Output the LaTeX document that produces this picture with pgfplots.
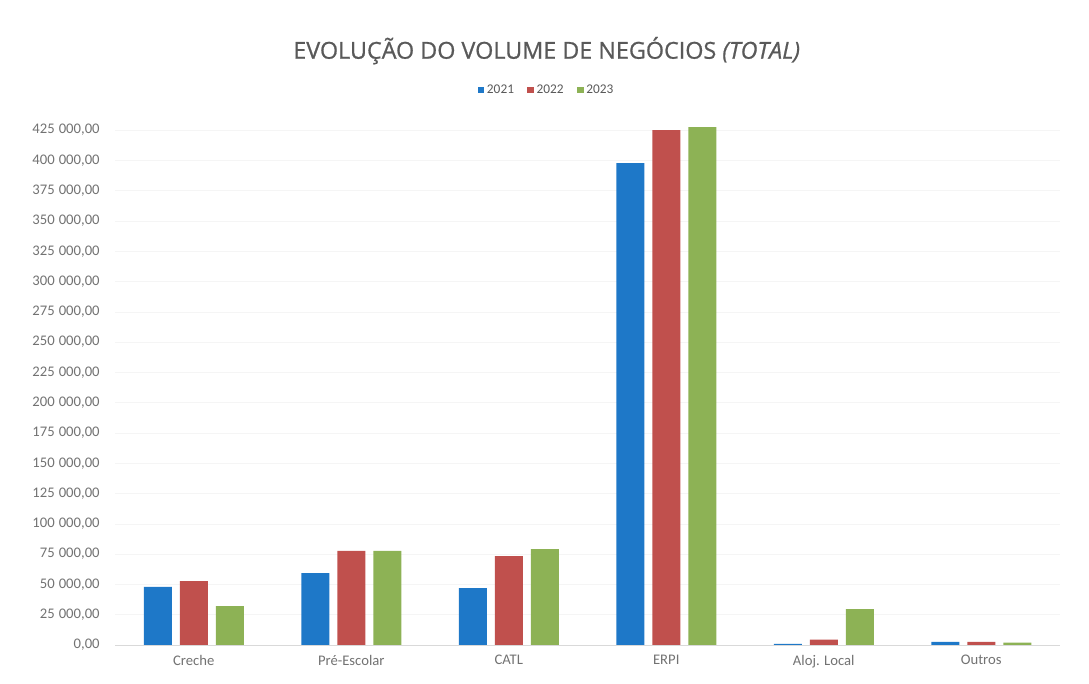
\documentclass[border=0pt]{standalone}
\usepackage{pgfplots}
\pgfplotsset{compat=1.18}
\usepackage{fontspec}
\setmainfont{Carlito}
\newfontfamily\titlefont[FakeBold=0.8]{Open Sans}
\definecolor{cblue}{HTML}{1E78C8}
\definecolor{cred}{HTML}{C0504D}
\definecolor{cgreen}{HTML}{8DB255}
\definecolor{ctext}{HTML}{595959}
\begin{document}
\begin{tikzpicture}
\path[use as bounding box] (0,0) rectangle (816.75pt,513pt);
\node[font=\titlefont\fontsize{17.5}{20}\selectfont, text=ctext] at (410pt,475pt) {EVOLUÇÃO DO VOLUME DE NEGÓCIOS \textit{(TOTAL)}};
\begin{axis}[
  at={(86.25pt,29.25pt)}, anchor=south west,
  scale only axis, width=708.75pt, height=399.75pt,
  ybar=6pt, bar width=21pt,
  xmin=-0.5, xmax=5.5, ymin=0, ymax=440000,
  xtick={0,1,2,3,4,5},
  xticklabels={Creche, Pré-Escolar, CATL, ERPI, Aloj. Local, Outros},
  ytick={0,25000,...,425000},
  scaled y ticks=false,
  /pgf/number format/fixed,
  /pgf/number format/fixed zerofill,
  /pgf/number format/precision=2,
  /pgf/number format/use comma,
  /pgf/number format/1000 sep={\hspace{3pt}},
  /pgf/number format/assume math mode=true,
  ticklabel style={font=\fontsize{11}{12}\selectfont, text=ctext!85},
  major tick length=0pt,
  axis x line*=bottom, axis y line*=left,
  x axis line style={draw=gray!30},
  y axis line style={draw=none},
  ymajorgrids, grid style={draw=gray!8},
  xticklabel style={yshift=-4pt},
  yticklabel style={xshift=-8pt},
  legend style={at={(0.457,1.041)}, anchor=center, draw=none, fill=none, legend columns=3, font=\fontsize{10}{11}\selectfont, text=ctext, /tikz/every even column/.append style={column sep=8pt}},
  legend image code/.code={\fill[#1] (0pt,-2.5pt) rectangle (5pt,2.5pt);},
]
\addplot[fill=cblue, draw=none] coordinates {(0,48000) (1,59400) (2,47000) (3,397700) (4,1000) (5,2500)};
\addplot[fill=cred, draw=none] coordinates {(0,52800) (1,77600) (2,73400) (3,425000) (4,4500) (5,2500)};
\addplot[fill=cgreen, draw=none] coordinates {(0,32000) (1,77600) (2,79200) (3,427500) (4,29700) (5,2000)};
\legend{2021,2022,2023}
\end{axis}
\end{tikzpicture}
\end{document}
